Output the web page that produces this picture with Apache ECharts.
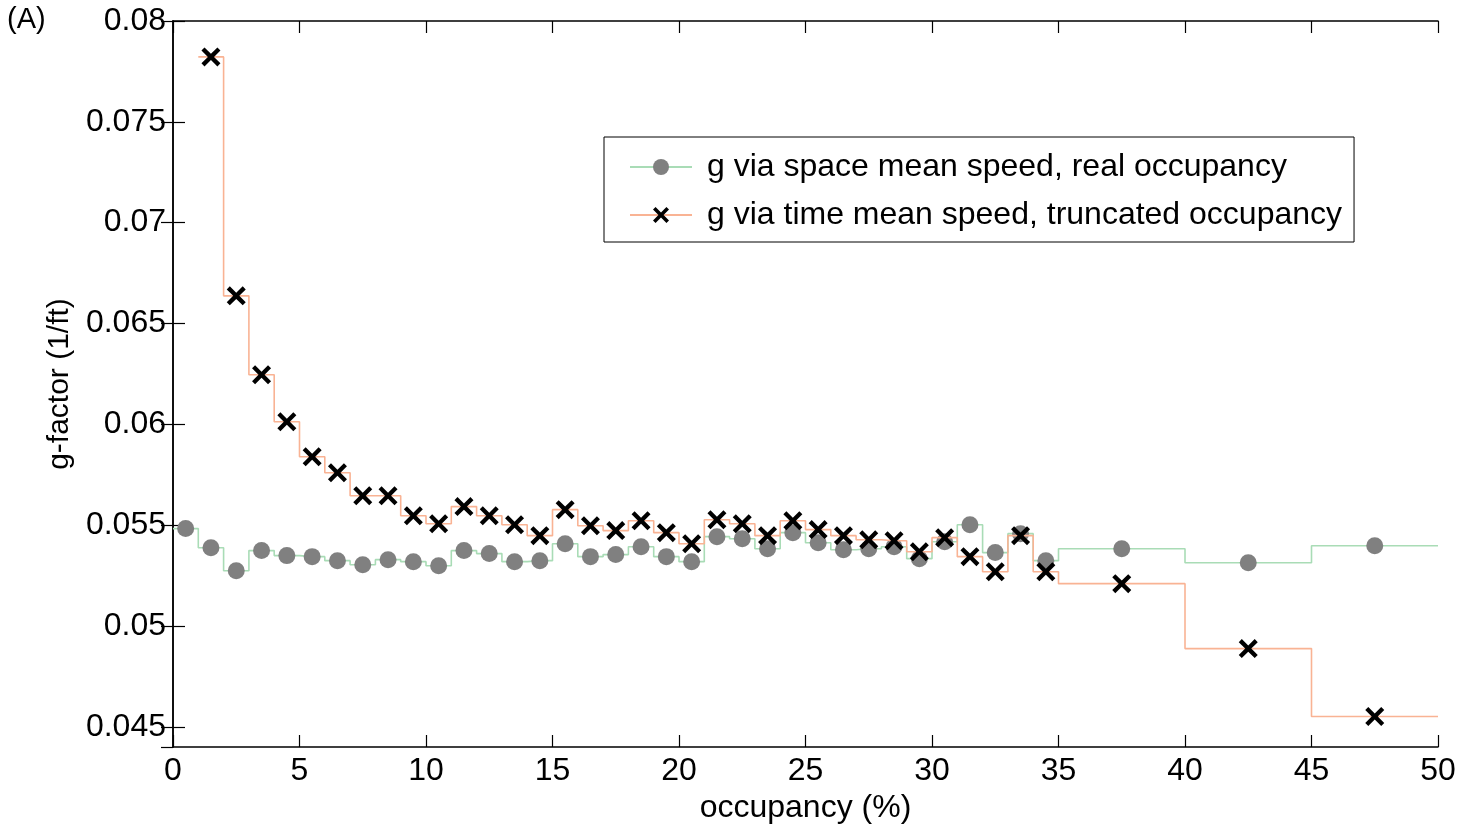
<!DOCTYPE html>
<html>
<head>
<meta charset="utf-8">
<script src="https://cdn.jsdelivr.net/npm/echarts@6/dist/echarts.min.js"></script>
<style>
  html, body { margin: 0; padding: 0; background: #fff; }
  #chart { width: 1474px; height: 829px; }
</style>
</head>
<body>
<div id="chart"></div>
<script>
// bin edges (occupancy %), 1% bins up to 35, then 5% bins
var binEdges = [0,1,2,3,4,5,6,7,8,9,10,11,12,13,14,15,16,17,18,19,20,
    21,22,23,24,25,26,27,28,29,30,31,32,33,34,35,40,45,50];

// g via space mean speed, real occupancy
var gSpace = [0.05483, 0.05388, 0.05274, 0.05374, 0.05349, 0.05344, 0.05324, 0.05304,
    0.05329, 0.05319, 0.05299, 0.05374, 0.05359, 0.05319, 0.05324, 0.05408, 0.05344,
    0.05354, 0.05393, 0.05344, 0.05319, 0.05443, 0.05433, 0.05383, 0.05463, 0.05413,
    0.05378, 0.05383, 0.05393, 0.05334, 0.05418, 0.05502, 0.05364, 0.05458, 0.05324,
    0.05383, 0.05314, 0.05398];

// g via time mean speed, truncated occupancy (no value in first bin)
var gTime = [null, 0.07822, 0.06637, 0.06246, 0.06013, 0.05839, 0.05760, 0.05646,
    0.05646, 0.05547, 0.05507, 0.05592, 0.05547, 0.05502, 0.05448, 0.05577, 0.05497,
    0.05473, 0.05522, 0.05463, 0.05408, 0.05527, 0.05507, 0.05448, 0.05522, 0.05478,
    0.05448, 0.05428, 0.05423, 0.05368, 0.05438, 0.05344, 0.05269, 0.05448, 0.05269,
    0.05210, 0.04888, 0.04551];

var yMin = 0.044, yMax = 0.08, yStep = 0.005;

var crossPath = 'path://M0,1.6L1.6,0L5,3.4L8.4,0L10,1.6L6.6,5L10,8.4L8.4,10L5,6.6L1.6,10L0,8.4L3.4,5Z';

// step outline with a marker at the middle of each bin
function stepData(vals) {
    var out = [];
    for (var i = 0; i < vals.length; i++) {
        var v = vals[i];
        if (v == null) continue;
        var lo = binEdges[i], hi = binEdges[i + 1];
        out.push({ value: [lo, v], symbol: 'none' });
        out.push({ value: [(lo + hi) / 2, v] });
        out.push({ value: [hi, v], symbol: 'none' });
    }
    return out;
}

var font = 'Liberation Sans, Arial, Helvetica, sans-serif';
var myChart = echarts.init(document.getElementById('chart'));

var frameLine = { show: true, lineStyle: { color: '#000', width: 1.5 } };
var tickStyle = { color: '#000', width: 1.2 };

myChart.setOption({
    animation: false,
    backgroundColor: '#fff',
    textStyle: { fontFamily: font },
    graphic: [{
        type: 'text', left: 7, top: 5,
        style: { text: '(A)', font: '29px ' + font, fill: '#000' }
    }],
    grid: { left: 173, right: 36, top: 21, bottom: 82 },
    legend: {
        orient: 'vertical',
        left: 604,
        top: 137,
        padding: [14, 12, 11, 25],
        itemGap: 16,
        itemWidth: 62,
        itemHeight: 20,
        borderColor: '#000',
        borderWidth: 1,
        textStyle: { fontSize: 32, color: '#000', fontFamily: font, padding: [0, 0, 0, 10] },
        data: ['g via space mean speed, real occupancy', 'g via time mean speed, truncated occupancy']
    },
    xAxis: [{
        type: 'value',
        min: 0, max: 50, interval: 5,
        name: 'occupancy (%)',
        nameLocation: 'middle',
        nameGap: 44,
        nameTextStyle: { fontSize: 32, color: '#000' },
        axisLine: frameLine,
        axisTick: { inside: true, length: 12, lineStyle: tickStyle },
        axisLabel: { fontSize: 32, color: '#000', margin: 8 },
        splitLine: { show: false }
    }, {
        type: 'value', position: 'top', min: 0, max: 50, interval: 5,
        axisLine: frameLine,
        axisTick: { show: true, inside: true, length: 12, lineStyle: tickStyle },
        axisLabel: { show: false },
        splitLine: { show: false }
    }],
    yAxis: [{
        type: 'value',
        min: yMin, max: yMax, minInterval: yStep, maxInterval: yStep,
        name: 'g-factor (1/ft)',
        nameLocation: 'middle',
        nameGap: 92,
        nameTextStyle: { fontSize: 30, color: '#000' },
        axisLine: frameLine,
        axisTick: { show: true, inside: true, length: 12, lineStyle: tickStyle },
        axisLabel: {
            fontSize: 32, color: '#000', margin: 7, showMinLabel: false,
            formatter: function (v) { return String(parseFloat(v.toFixed(3))); }
        },
        splitLine: { show: false }
    }, {
        type: 'value',
        position: 'right',
        min: yMin, max: yMax, minInterval: yStep, maxInterval: yStep,
        axisLine: frameLine,
        axisTick: { show: true, inside: true, length: 12, lineStyle: tickStyle },
        axisLabel: { show: false },
        splitLine: { show: false }
    }],
    series: [{
        name: 'g via space mean speed, real occupancy',
        type: 'line',
        data: stepData(gSpace),
        showAllSymbol: true,
        symbol: 'circle',
        symbolSize: 17,
        itemStyle: { color: '#808080' },
        lineStyle: { color: '#a9dcb6', width: 1.6 },
        emphasis: { disabled: true },
        z: 2
    }, {
        name: 'g via time mean speed, truncated occupancy',
        type: 'line',
        data: stepData(gTime),
        showAllSymbol: true,
        symbol: crossPath,
        symbolSize: 19,
        itemStyle: { color: '#000' },
        lineStyle: { color: '#f9b394', width: 1.6 },
        emphasis: { disabled: true },
        z: 3
    }]
});
</script>
</body>
</html>
